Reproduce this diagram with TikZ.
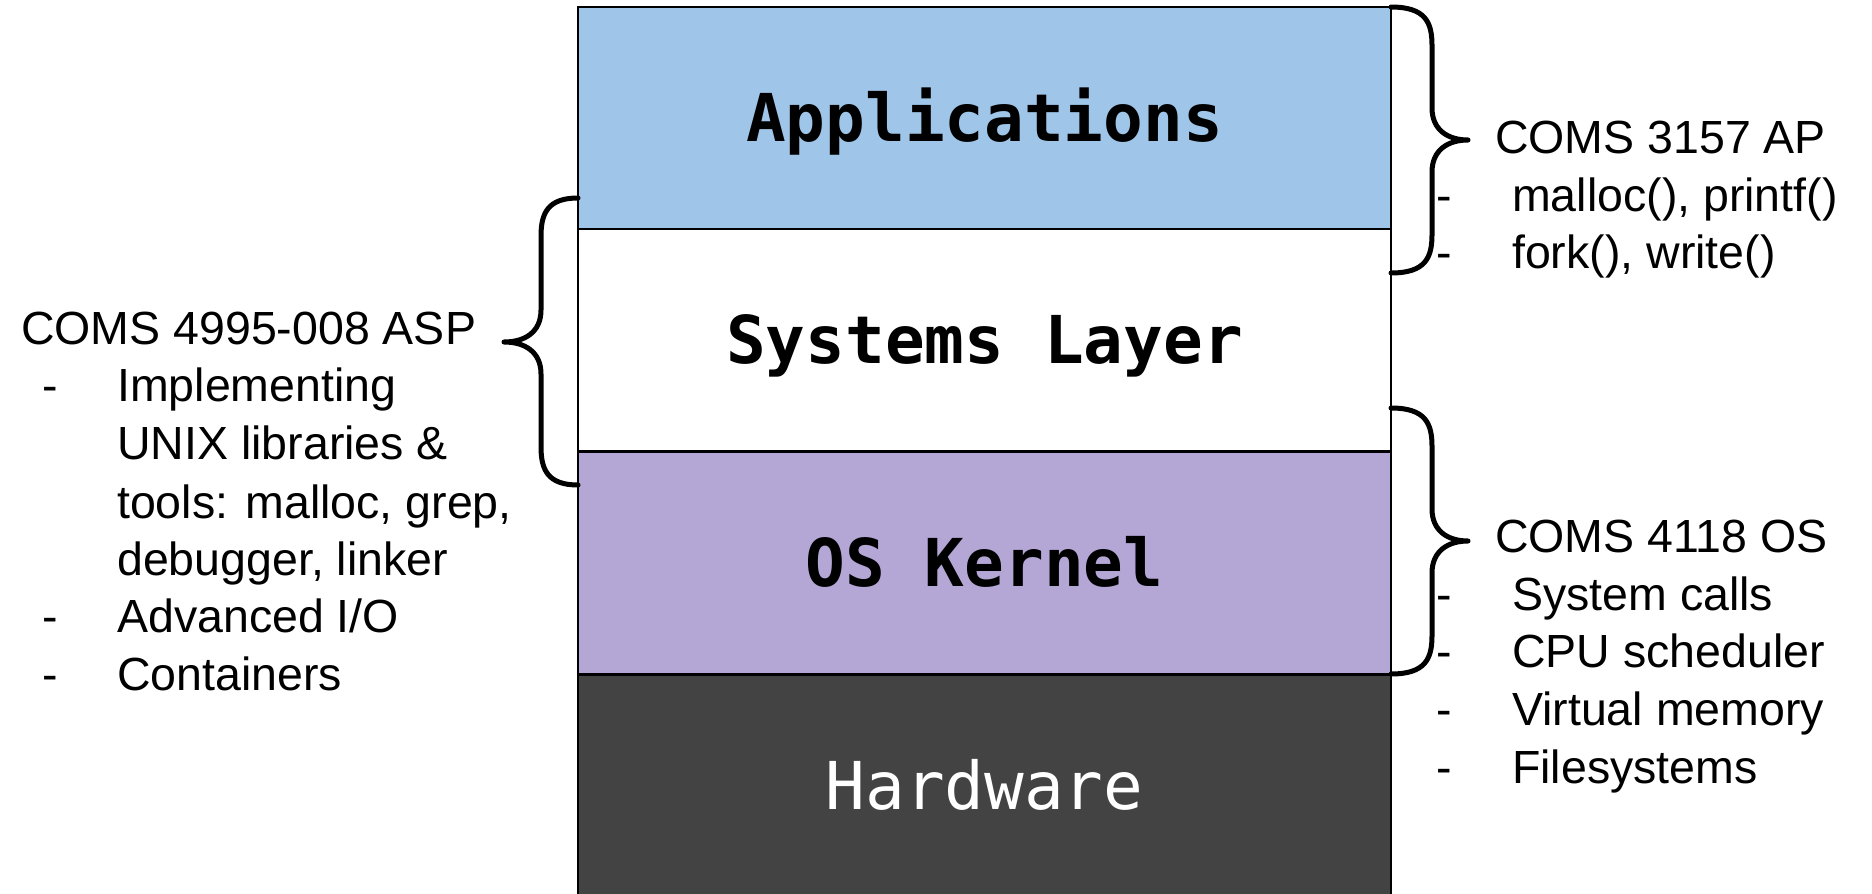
\documentclass[tikz,border=0pt]{standalone}
\usepackage{fontspec}
\setmainfont{Liberation Sans}
\newfontfamily\monofam{DejaVu Sans Mono}
\definecolor{appblue}{HTML}{9FC5E8}
\definecolor{kernpurple}{HTML}{B4A7D6}
\definecolor{hwgray}{HTML}{434343}
\begin{document}
\begin{tikzpicture}[x=1pt,y=-1pt,
  layer/.style={draw=black, line width=2.5pt, minimum width=813pt, minimum height=222pt,
    inner sep=0pt, text height=47pt, text depth=0pt},
  monobold/.style={font=\monofam\bfseries\fontsize{66}{70}\selectfont},
  monoreg/.style={font=\monofam\fontsize{66}{70}\selectfont},
  brace/.style={line width=5pt, line cap=round, line join=round},
  lbl/.style={anchor=base west, inner sep=0pt, font=\fontsize{46.5}{58}\selectfont},
]
\useasboundingbox (0,0) rectangle (1872,894);
% layers
\node[layer, fill=appblue, monobold] (apps) at (984.5,118) {Applications};
\node[layer, fill=white, monobold] (sys) at (984.5,340) {Systems Layer};
\node[layer, fill=kernpurple, monobold] (os) at (984.5,563) {OS Kernel};
\node[layer, fill=hwgray, text=white, monoreg] (hw) at (984.5,786) {Hardware};
% braces
\draw[brace] (1391,7) .. controls (1425,7) and (1432,22) .. (1432,45) -- (1432,108)
  .. controls (1432,130) and (1448,140) .. (1468,140)
  .. controls (1448,140) and (1432,150) .. (1432,172) -- (1432,235)
  .. controls (1432,258) and (1425,273) .. (1391,273);
\draw[brace] (1391,408) .. controls (1425,408) and (1432,423) .. (1432,446) -- (1432,509)
  .. controls (1432,531) and (1448,541) .. (1468,541)
  .. controls (1448,541) and (1432,551) .. (1432,573) -- (1432,636)
  .. controls (1432,659) and (1425,674) .. (1391,674);
\draw[brace] (578,198) .. controls (548,198) and (541,213) .. (541,236) -- (541,310)
  .. controls (541,332) and (525,342) .. (504,342)
  .. controls (525,342) and (541,352) .. (541,374) -- (541,447)
  .. controls (541,470) and (548,485) .. (578,485);
% right labels, AP
\node[lbl] (aph) at (1495,153) {COMS 3157 AP};
\node[lbl] (apd1) at (1436,211) {-};
\node[lbl] (api1) at (1512,211) {malloc(), printf()};
\node[lbl] (apd2) at (1436,268) {-};
\node[lbl] (api2) at (1512,268) {fork(), write()};
% right labels, OS
\node[lbl] (osh) at (1495,552) {COMS 4118 OS};
\node[lbl] (osd1) at (1436,610) {-};
\node[lbl] (osi1) at (1512,610) {System calls};
\node[lbl] (osd2) at (1436,667) {-};
\node[lbl] (osi2) at (1512,667) {CPU scheduler};
\node[lbl] (osd3) at (1436,725) {-};
\node[lbl] (osi3) at (1512,725) {Virtual memory};
\node[lbl] (osd4) at (1436,783) {-};
\node[lbl] (osi4) at (1512,783) {Filesystems};
% left labels, ASP
\node[lbl] (asph) at (21,344) {COMS 4995-008 ASP};
\node[lbl] (aspd1) at (42,401) {-};
\node[lbl] (aspi1) at (117,401) {Implementing};
\node[lbl] (aspi1b) at (117,459) {UNIX libraries \&};
\node[lbl] (aspi1c) at (117,518) {tools: malloc, grep,};
\node[lbl] (aspi1d) at (117,575) {debugger, linker};
\node[lbl] (aspd2) at (42,632) {-};
\node[lbl] (aspi2) at (117,632) {Advanced I/O};
\node[lbl] (aspd3) at (42,690) {-};
\node[lbl] (aspi3) at (117,690) {Containers};
\end{tikzpicture}
\end{document}
